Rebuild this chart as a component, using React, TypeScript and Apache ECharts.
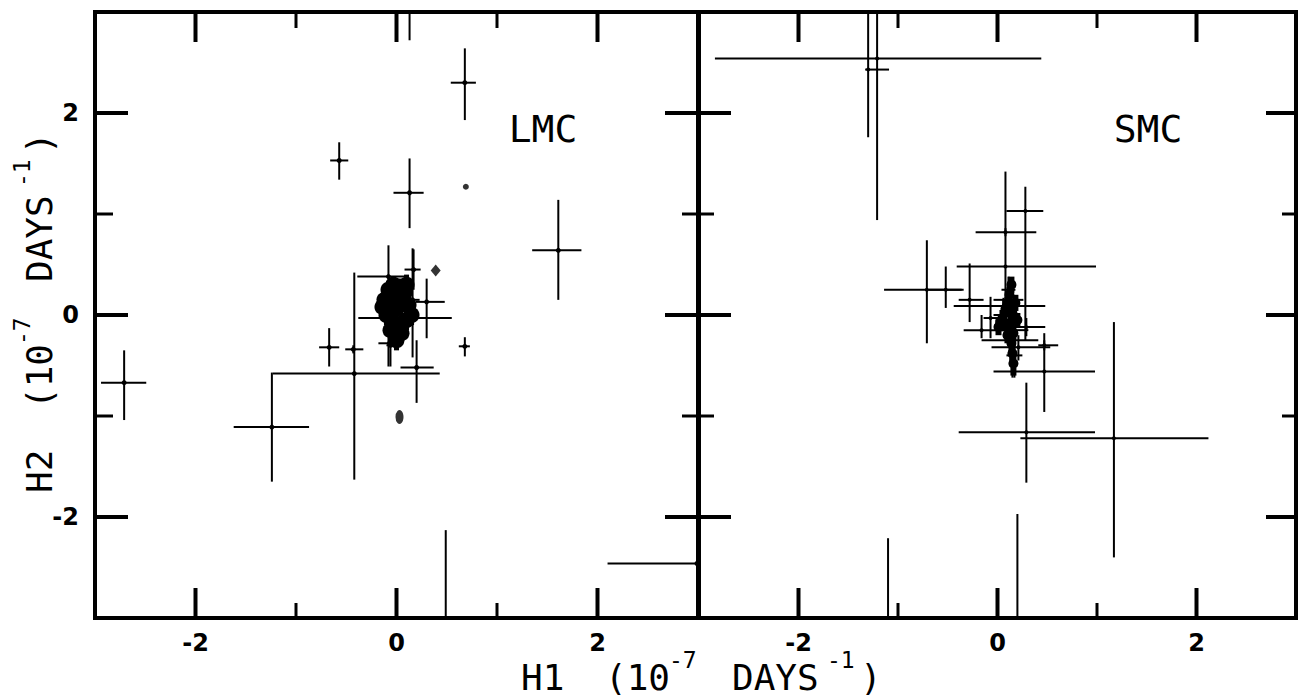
import React, { useEffect, useRef } from "react";
import * as echarts from "echarts";

// Tick values (both axes, both panels)
const xTickLabels = [-2, 0, 2];
const yTickLabels = [-2, 0, 2];
const majorTicks = [-2, 0, 2];
const minorTicks = [-1, 1];

// Each row: [H1, H2, H1 low, H1 high, H2 low, H2 high]  (units 1e-7 days^-1)
const lmcPoints = [
  [-2.71, -0.67, -2.94, -2.49, -1.04, -0.35],
  [-1.24, -1.11, -1.62, -0.87, -1.65, -0.57],
  [-0.42, -0.58, -1.23, 0.43, -1.63, 0.42],
  [-0.08, 0.38, -0.39, 0.09, -0.51, 0.69],
  [-0.43, -0.34, -0.51, -0.33, -0.38, -0.3],
  [-0.67, -0.32, -0.77, -0.57, -0.51, -0.13],
  [0.68, -0.31, 0.62, 0.73, -0.41, -0.22],
  [0.13, 1.21, -0.03, 0.27, 0.86, 1.55],
  [-0.57, 1.53, -0.66, -0.48, 1.34, 1.71],
  [0.68, 2.3, 0.54, 0.79, 1.93, 2.64],
  [1.61, 0.64, 1.35, 1.84, 0.15, 1.14],
  [2.99, -2.46, 2.1, 3.0, -2.49, -2.43],
  [0.49, -3.4, 0.47, 0.51, -3.6, -2.13],
  [0.13, 3.4, 0.11, 0.15, 2.72, 3.6],
  [0.2, -0.52, 0.04, 0.37, -0.87, -0.25],
  [0.08, -0.03, -0.38, 0.55, -0.21, 0.15],
  [0.16, 0.15, 0.09, 0.23, -0.42, 0.66],
  [0.3, 0.13, 0.19, 0.48, -0.23, 0.36],
  [0.17, 0.45, 0.08, 0.24, 0.25, 0.65],
  [-0.06, -0.3, -0.1, -0.02, -0.51, -0.15],
  [-0.07, -0.28, -0.18, 0.04, -0.3, -0.26],
  [-0.14, 0.13, -0.19, -0.09, 0.11, 0.15],
];

// Dense central LMC clump
const lmcCore = [
  [-0.12, 0.15, -0.18, -0.06, 0.05, 0.25],
  [-0.08, 0.25, -0.14, -0.02, 0.15, 0.34],
  [-0.03, 0.3, -0.09, 0.03, 0.2, 0.38],
  [0.03, 0.28, -0.03, 0.09, 0.18, 0.36],
  [0.08, 0.22, 0.02, 0.14, 0.12, 0.32],
  [0.12, 0.1, 0.06, 0.18, 0.0, 0.2],
  [0.1, -0.05, 0.04, 0.16, -0.15, 0.05],
  [0.05, -0.18, -0.01, 0.11, -0.28, -0.08],
  [0.0, -0.25, -0.06, 0.06, -0.35, -0.15],
  [-0.06, -0.15, -0.12, 0.0, -0.25, -0.05],
  [-0.1, 0.0, -0.16, -0.04, -0.1, 0.1],
  [-0.02, 0.05, -0.08, 0.04, -0.05, 0.15],
  [0.04, 0.1, -0.02, 0.1, 0.0, 0.2],
  [0.0, 0.18, -0.06, 0.06, 0.08, 0.28],
  [-0.05, -0.05, -0.11, 0.01, -0.15, 0.05],
  [0.06, -0.08, 0.0, 0.12, -0.18, 0.02],
  [0.15, 0.0, 0.09, 0.21, -0.1, 0.1],
  [0.02, -0.12, -0.04, 0.08, -0.22, -0.02],
  [-0.14, 0.08, -0.2, -0.08, -0.02, 0.18],
  [0.1, 0.3, 0.04, 0.16, 0.22, 0.4],
];

const lmcDiamond = [[0.39, 0.44]];
const lmcDrop = [[0.03, -1.01]];
const lmcDot = [[0.69, 1.27]];

const smcPoints = [
  [-1.21, 2.54, -2.84, 0.44, 0.94, 3.2],
  [-1.3, 2.43, -1.33, -1.09, 1.76, 3.2],
  [-0.71, 0.25, -1.14, -0.36, -0.28, 0.74],
  [-0.52, 0.25, -0.69, -0.34, 0.07, 0.48],
  [-0.28, 0.15, -0.39, -0.14, -0.07, 0.51],
  [0.08, 0.48, -0.41, 0.99, 0.15, 1.42],
  [0.28, 1.03, 0.09, 0.46, -0.25, 1.27],
  [0.08, 0.82, -0.22, 0.39, 0.78, 0.86],
  [0.06, 0.09, -0.44, 0.48, 0.01, 0.17],
  [0.47, -0.56, -0.04, 0.98, -0.96, -0.18],
  [0.29, -1.16, -0.39, 0.98, -1.66, -0.67],
  [1.17, -1.22, 0.23, 2.12, -2.4, -0.07],
  [-1.1, -3.4, -1.12, -1.08, -3.6, -2.21],
  [0.2, -3.4, 0.18, 0.22, -3.6, -1.97],
  [0.13, 0.15, -0.04, 0.26, -0.15, 0.37],
  [0.15, -0.15, 0.01, 0.31, -0.62, 0.15],
  [-0.16, -0.15, -0.34, 0.18, -0.23, 0.0],
  [-0.07, -0.03, -0.14, 0.01, -0.23, 0.18],
  [0.13, -0.25, -0.16, 0.41, -0.45, -0.05],
  [0.21, -0.32, -0.06, 0.53, -0.45, -0.2],
  [0.17, -0.4, 0.09, 0.25, -0.62, -0.25],
  [0.06, 0.0, -0.04, 0.21, -0.15, 0.15],
  [0.11, 0.25, 0.04, 0.18, 0.1, 0.38],
  [0.29, -0.12, 0.11, 0.48, -0.21, -0.03],
  [0.47, -0.3, 0.41, 0.61, -0.35, -0.25],
];

const smcCore = [
  [0.14, 0.3, 0.1, 0.18, 0.22, 0.38],
  [0.12, 0.2, 0.08, 0.16, 0.12, 0.28],
  [0.1, 0.1, 0.06, 0.14, 0.02, 0.18],
  [0.15, 0.02, 0.11, 0.19, -0.06, 0.1],
  [0.13, -0.08, 0.09, 0.17, -0.16, 0.0],
  [0.16, -0.18, 0.12, 0.2, -0.26, -0.1],
  [0.14, -0.28, 0.1, 0.18, -0.36, -0.2],
  [0.15, -0.38, 0.11, 0.19, -0.46, -0.3],
  [0.16, -0.48, 0.12, 0.2, -0.6, -0.4],
  [0.05, -0.03, 0.01, 0.09, -0.11, 0.05],
  [0.01, -0.12, -0.03, 0.05, -0.2, -0.04],
  [0.08, 0.06, 0.04, 0.12, -0.02, 0.14],
  [0.1, -0.2, 0.06, 0.14, -0.28, -0.12],
  [0.18, 0.12, 0.14, 0.22, 0.04, 0.2],
  [0.03, -0.08, -0.02, 0.08, -0.14, -0.02],
  [0.09, -0.1, 0.04, 0.14, -0.16, -0.04],
  [0.2, -0.05, 0.16, 0.24, -0.12, 0.02],
];

// Axis-title pieces: [text, offset along the title, superscript?]
const titleTailPieces: [string, number, boolean][] = [
  ["(10", 84, false],
  ["-7", 148, true],
  ["DAYS", 211, false],
  ["-1", 306, true],
  [")", 339, false],
];

const FONT = '"DejaVu Sans Mono", monospace';
const LABEL_FONT = '"DejaVu Sans", sans-serif';

function errorBars(lineWidth: number, r: number) {
  return (params: any, api: any) => {
    const x = api.value(0);
    const y = api.value(1);
    const c = api.coord([x, y]);
    const xl = api.coord([api.value(2), y]);
    const xh = api.coord([api.value(3), y]);
    const yl = api.coord([x, api.value(4)]);
    const yh = api.coord([x, api.value(5)]);
    const st = { stroke: "#000", lineWidth };
    return {
      type: "group",
      children: [
        { type: "line", shape: { x1: xl[0], y1: xl[1], x2: xh[0], y2: xh[1] }, style: st },
        { type: "line", shape: { x1: yl[0], y1: yl[1], x2: yh[0], y2: yh[1] }, style: st },
        { type: "circle", shape: { cx: c[0], cy: c[1], r }, style: { fill: "#000" } },
      ],
    };
  };
}

function ticks(len: any, lw: number, panel: "left" | "right") {
  return (params: any, api: any) => {
    const v = api.value(0);
    const b = api.coord([v, -3]);
    const t = api.coord([v, 3]);
    const l = api.coord([-3, v]);
    const r = api.coord([3, v]);
    const st = { stroke: "#000", lineWidth: lw };
    const ch: any[] = [
      { type: "line", shape: { x1: b[0], y1: b[1], x2: b[0], y2: b[1] - len.bottom }, style: st },
      { type: "line", shape: { x1: t[0], y1: t[1], x2: t[0], y2: t[1] + len.top }, style: st },
    ];
    if (panel === "left") {
      ch.push({ type: "line", shape: { x1: l[0], y1: l[1], x2: l[0] + len.side, y2: l[1] }, style: st });
      ch.push({ type: "line", shape: { x1: r[0] - len.div, y1: r[1], x2: r[0] + len.div, y2: r[1] }, style: st });
    } else {
      ch.push({ type: "line", shape: { x1: r[0], y1: r[1], x2: r[0] - len.side, y2: r[1] }, style: st });
    }
    return { type: "group", children: ch };
  };
}

function axisLabel(values: number[], margin: number) {
  return {
    formatter: (v: number) => (values.indexOf(v) >= 0 ? String(v) : ""),
    fontSize: 24,
    fontWeight: "bold",
    fontFamily: LABEL_FONT,
    color: "#000",
    margin,
  };
}

function errSeries(data: number[][], idx: number, lw: number, r: number) {
  return {
    type: "custom",
    xAxisIndex: idx,
    yAxisIndex: idx,
    clip: true,
    silent: true,
    encode: { x: 0, y: 1 },
    renderItem: errorBars(lw, r),
    data,
  };
}

function tickSeries(vals: number[], idx: number, len: any, lw: number, panel: "left" | "right") {
  return {
    type: "custom",
    xAxisIndex: idx,
    yAxisIndex: idx,
    clip: false,
    silent: true,
    encode: { x: 0, y: 1 },
    renderItem: ticks(len, lw, panel),
    data: vals.map((v) => [v, v]),
    z: 5,
  };
}

function axisTitle(head: string, x: number, y: number, rotation: number) {
  const piece = (text: string, off: number, sup: boolean) => ({
    type: "text",
    x: off,
    y: sup ? -17 : 0,
    silent: true,
    style: {
      text,
      fontSize: sup ? 23 : 36,
      fontFamily: FONT,
      fill: "#000",
      align: "left",
      verticalAlign: "middle",
    },
  });
  return {
    type: "group",
    x,
    y,
    rotation,
    silent: true,
    children: [piece(head, 0, false), ...titleTailPieces.map((p) => piece(p[0], p[1], p[2]))],
  };
}

export default function App() {
  const ref = useRef<HTMLDivElement>(null);
  useEffect(() => {
    if (!ref.current) return;
    const chart = echarts.init(ref.current, undefined, { renderer: "svg" });
    const baseAxis = {
      type: "value",
      min: -3,
      max: 3,
      interval: 1,
      axisLine: { show: false },
      axisTick: { show: false },
      splitLine: { show: false },
    };
    chart.setOption({
      animation: false,
      backgroundColor: "#fff",
      grid: [
        { left: 95, top: 12, width: 603, height: 606, show: true, borderColor: "#000", borderWidth: 4 },
        { left: 699, top: 12, width: 600, height: 606, show: true, borderColor: "#000", borderWidth: 4 },
      ],
      xAxis: [
        { ...baseAxis, gridIndex: 0, axisLabel: axisLabel(xTickLabels, 13) },
        { ...baseAxis, gridIndex: 1, axisLabel: axisLabel(xTickLabels, 13) },
      ],
      yAxis: [
        { ...baseAxis, gridIndex: 0, axisLabel: axisLabel(yTickLabels, 16) },
        { ...baseAxis, gridIndex: 1, axisLabel: { show: false } },
      ],
      series: [
        tickSeries(majorTicks, 0, { bottom: 30, top: 30, side: 33, div: 33 }, 4, "left"),
        tickSeries(minorTicks, 0, { bottom: 15, top: 16, side: 18, div: 16 }, 3, "left"),
        tickSeries(majorTicks, 1, { bottom: 30, top: 30, side: 30 }, 4, "right"),
        tickSeries(minorTicks, 1, { bottom: 15, top: 16, side: 14 }, 3, "right"),
        errSeries(lmcPoints, 0, 2, 2.5),
        errSeries(lmcCore, 0, 5, 8),
        errSeries(smcPoints, 1, 2, 2),
        errSeries(smcCore, 1, 6, 5),
        {
          type: "scatter", xAxisIndex: 0, yAxisIndex: 0, silent: true,
          symbol: "diamond", symbolSize: [10, 12], itemStyle: { color: "#000" }, data: lmcDiamond,
        },
        {
          type: "scatter", xAxisIndex: 0, yAxisIndex: 0, silent: true,
          symbol: "circle", symbolSize: [8, 14], itemStyle: { color: "#000" }, data: lmcDrop,
        },
        {
          type: "scatter", xAxisIndex: 0, yAxisIndex: 0, silent: true,
          symbol: "circle", symbolSize: 6, itemStyle: { color: "#000" }, data: lmcDot,
        },
      ],
      graphic: [
        {
          type: "text", x: 543, y: 129, silent: true,
          style: { text: "LMC", fontSize: 38, fontFamily: FONT, fill: "#000", align: "center", verticalAlign: "middle" },
        },
        {
          type: "text", x: 1148, y: 129, silent: true,
          style: { text: "SMC", fontSize: 38, fontFamily: FONT, fill: "#000", align: "center", verticalAlign: "middle" },
        },
        axisTitle("H1", 521, 677, 0),
        axisTitle("H2", 39, 493, Math.PI / 2),
      ],
    });
    return () => chart.dispose();
  }, []);
  return (
    <div
      ref={ref}
      style={{ position: "absolute", left: 0, top: 0, width: 1299, height: 698, background: "#fff" }}
    />
  );
}
